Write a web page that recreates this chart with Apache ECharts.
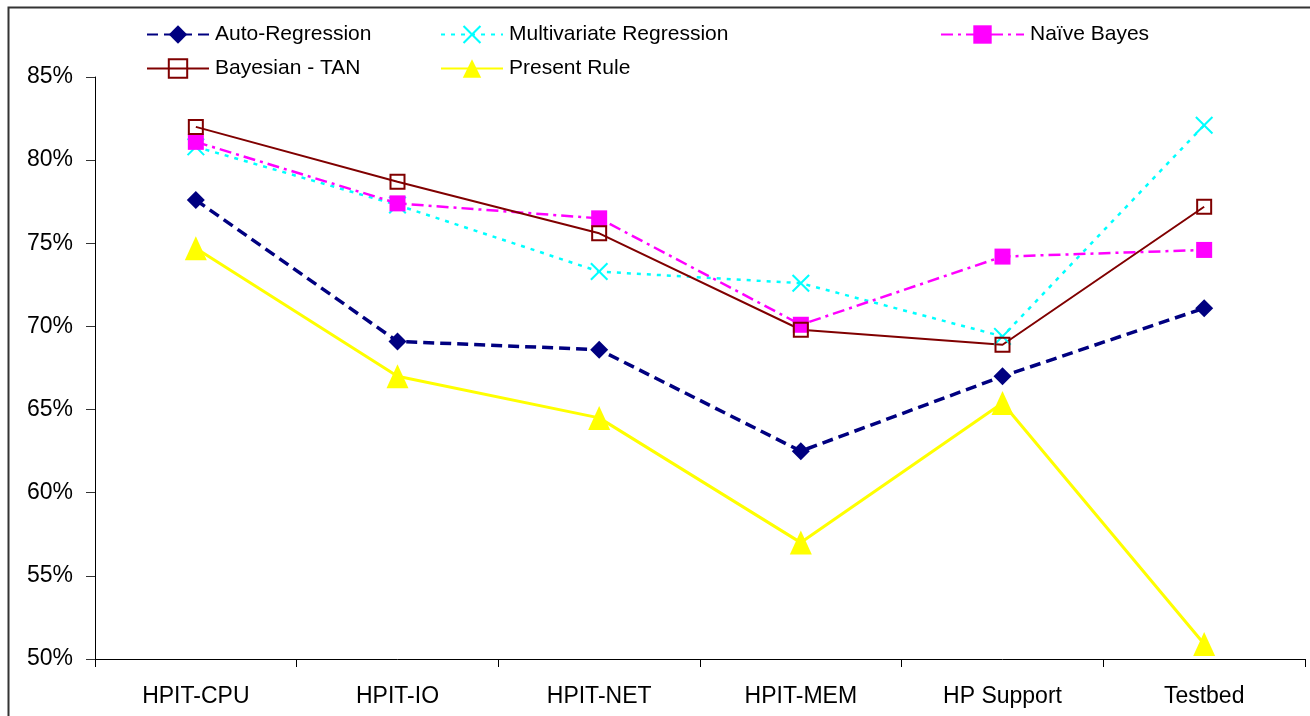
<!DOCTYPE html>
<html>
<head>
<meta charset="utf-8">
<title>Prediction accuracy by dataset</title>
<script src="https://cdn.jsdelivr.net/npm/echarts@6/dist/echarts.min.js"></script>
<style>
  html, body { margin: 0; padding: 0; background: #fff; }
  #chart { width: 1310px; height: 716px; }
</style>
</head>
<body>
<div id="chart"></div>
<script>
// Datasets along the x axis
const categories = ['HPIT-CPU', 'HPIT-IO', 'HPIT-NET', 'HPIT-MEM', 'HP Support', 'Testbed'];

// Accuracy per method, in percent
const autoRegression = [77.6, 69.1, 68.6, 62.5, 67.0, 71.1];
const multivariateRegression = [80.8, 77.3, 73.3, 72.6, 69.4, 82.1];
const naiveBayes = [81.1, 77.4, 76.5, 70.1, 74.2, 74.6];
const bayesianTan = [82.0, 78.7, 75.6, 69.8, 68.9, 77.2];
const presentRule = [74.7, 67.0, 64.5, 57.0, 65.4, 50.9];

// Y axis range
const yMin = 50, yMax = 85, yStep = 5;

const FONT = "'Liberation Sans', Arial, sans-serif";
const crossPath = 'path://M0,8L8,0L50,42L92,0L100,8L58,50L100,92L92,100L50,58L8,100L0,92L42,50Z';

function legendAt(name, left, top, width) {
  return {
    data: [name],
    left: left,
    top: top,
    padding: 0,
    itemWidth: width,
    itemHeight: 23,
    itemGap: 0,
    selectedMode: false,
    textStyle: { fontFamily: FONT, fontSize: 21, color: '#000', padding: [0, 0, 0, 1] }
  };
}

const chart = echarts.init(document.getElementById('chart'), null, { renderer: 'canvas' });

chart.setOption({
  backgroundColor: '#fff',
  animation: false,
  graphic: [{
    type: 'rect',
    left: 6, top: 5,
    shape: { x: 0, y: 0, width: 1400, height: 800 },
    style: { fill: 'none', stroke: '#333', lineWidth: 2 },
    silent: true
  }],
  legend: [
    legendAt('Auto-Regression', 146, 24, 62),
    legendAt('Multivariate Regression', 440, 24, 62),
    legendAt('Naïve Bayes', 940, 24, 83),
    legendAt('Bayesian - TAN', 146, 58, 62),
    legendAt('Present Rule', 440, 58, 62)
  ],
  grid: { left: 95, right: 5, top: 77, bottom: 57, containLabel: false },
  xAxis: {
    type: 'category',
    data: categories,
    boundaryGap: true,
    axisLine: { lineStyle: { color: '#000', width: 1 } },
    axisTick: { show: true, length: 8, lineStyle: { color: '#000' } },
    axisLabel: { fontFamily: FONT, fontSize: 23, color: '#000', margin: 26 },
    splitLine: { show: false }
  },
  yAxis: {
    type: 'value',
    min: yMin, max: yMax, interval: yStep,
    axisLine: { show: true, lineStyle: { color: '#000', width: 1 } },
    axisTick: { show: true, length: 9, lineStyle: { color: '#333' } },
    axisLabel: { fontFamily: FONT, fontSize: 23, color: '#000', margin: 22, formatter: '{value}%' },
    splitLine: { show: false }
  },
  series: [
    {
      name: 'Auto-Regression', type: 'line', data: autoRegression,
      symbol: 'diamond', symbolSize: 18,
      itemStyle: { color: '#000080' },
      lineStyle: { color: '#000080', width: 3.5, type: [11, 6] }
    },
    {
      name: 'Multivariate Regression', type: 'line', data: multivariateRegression,
      symbol: crossPath, symbolSize: 18,
      itemStyle: { color: '#00FFFF' },
      lineStyle: { color: '#00FFFF', width: 2.5, type: [4, 6] }
    },
    {
      name: 'Naïve Bayes', type: 'line', data: naiveBayes,
      symbol: 'rect', symbolSize: 16,
      itemStyle: { color: '#FF00FF' },
      lineStyle: { color: '#FF00FF', width: 2.5, type: [12, 5, 3, 5] }
    },
    {
      name: 'Bayesian - TAN', type: 'line', data: bayesianTan,
      symbol: 'rect', symbolSize: 14,
      itemStyle: { color: 'rgba(255,255,255,0)', borderColor: '#800000', borderWidth: 2 },
      lineStyle: { color: '#800000', width: 2 }
    },
    {
      name: 'Present Rule', type: 'line', data: presentRule,
      symbol: 'triangle', symbolSize: [22, 24],
      itemStyle: { color: '#FFFF00' },
      lineStyle: { color: '#FFFF00', width: 3 }
    }
  ]
});
</script>
</body>
</html>
